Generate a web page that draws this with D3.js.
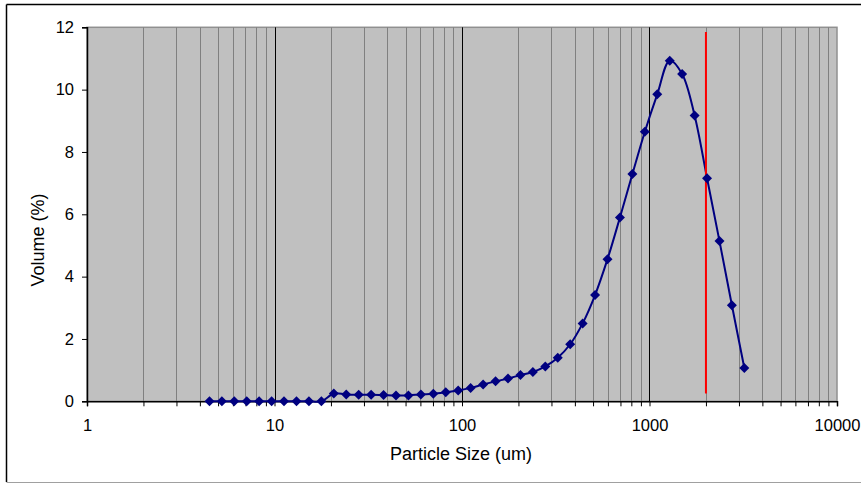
<!DOCTYPE html>
<html><head><meta charset="utf-8">
<script src="https://cdn.jsdelivr.net/npm/d3@7"></script>
<style>html,body{margin:0;padding:0;background:#fff;}svg{display:block;}</style>
</head><body>
<svg id="c" width="861" height="483"></svg>
<script>
// Particle sizes (um)
const sizes = [4.5, 5.24, 6.1, 7.11, 8.28, 9.65, 11.24, 13.1, 15.26, 17.78,
  20.72, 24.14, 28.12, 32.76, 38.17, 44.47, 51.81, 60.37, 70.33, 81.94,
  95.46, 111.2, 129.6, 151.0, 175.9, 204.9, 238.8, 278.2, 324.1, 377.6,
  439.9, 512.5, 597.0, 695.6, 810.4, 944.3, 1100, 1282, 1493, 1740,
  2027, 2362, 2751, 3205];
// Volume (%)
const volumes = [0, 0, 0, 0, 0, 0, 0, 0, 0, 0,
  0.25, 0.22, 0.21, 0.21, 0.2, 0.19, 0.19, 0.22, 0.24, 0.29,
  0.35, 0.43, 0.54, 0.64, 0.73, 0.84, 0.94, 1.12, 1.4, 1.83,
  2.5, 3.41, 4.56, 5.9, 7.29, 8.65, 9.85, 10.93, 10.5, 9.17,
  7.16, 5.14, 3.08, 1.07];
const xTickValues = [1, 10, 100, 1000, 10000];
const yTickValues = [0, 2, 4, 6, 8, 10, 12];
const cutSize = [2000];
const cutRange = [0.25, 11.85];

const svg = d3.select("#c");
const X0 = 87, X1 = 837, Y0 = 401.3, Y1 = 27.3;
const x = d3.scaleLog().domain([1, 10000]).range([X0, X1]);
const y = d3.scaleLinear().domain([0, 12]).range([Y0, Y1]);
const font = "Arial, 'Liberation Sans', sans-serif";

// outer border
svg.append("line").attr("x1", 6.5).attr("x2", 861).attr("y1", 4.5).attr("y2", 4.5).attr("stroke", "#000").attr("stroke-width", 1.5);
svg.append("line").attr("x1", 6.5).attr("x2", 6.5).attr("y1", 4.5).attr("y2", 482).attr("stroke", "#000").attr("stroke-width", 1.5);
svg.append("line").attr("x1", 6.5).attr("x2", 861).attr("y1", 482.5).attr("y2", 482.5).attr("stroke", "#a0a0a0").attr("stroke-width", 1);

// plot area
svg.append("rect").attr("x", X0).attr("y", Y1).attr("width", X1 - X0).attr("height", Y0 - Y1)
  .attr("fill", "#c0c0c0").attr("stroke", "#909090").attr("stroke-width", 1.5);

// gridlines
const allTicks = [];
for (let d = 1; d < 10000; d *= 10) for (let k = 1; k < 10; k++) allTicks.push(d * k);
allTicks.push(10000);
const grid = svg.append("g");
allTicks.filter(v => v > 1 && v < 10000).forEach(v => {
  const major = xTickValues.includes(v);
  grid.append("line").attr("x1", Math.round(x(v)) + 0.5).attr("x2", Math.round(x(v)) + 0.5)
    .attr("y1", Y1).attr("y2", Y0)
    .attr("stroke", major ? "#000" : "#808080").attr("stroke-width", 1);
});

// axes
const xAxis = d3.axisBottom(x).tickValues(allTicks).tickSize(5)
  .tickFormat(v => xTickValues.includes(v) ? String(v) : "");
const gx = svg.append("g").attr("transform", `translate(0,${Y0})`).call(xAxis);
gx.select(".domain").attr("stroke", "#000").attr("stroke-width", 1.5);
gx.selectAll(".tick line").attr("stroke", "#000");
gx.selectAll(".tick text").attr("font-family", font).attr("font-size", 16.5).attr("fill", "#000")
  .attr("y", 30).attr("dy", 0);

const yAxis = d3.axisLeft(y).tickValues(yTickValues).tickSize(5).tickFormat(d3.format("d"));
const gy = svg.append("g").attr("transform", `translate(${X0},0)`).call(yAxis);
gy.select(".domain").attr("stroke", "#000").attr("stroke-width", 1.5);
gy.selectAll(".tick line").attr("stroke", "#000");
gy.selectAll(".tick text").attr("font-family", font).attr("font-size", 16.5).attr("fill", "#000").attr("x", -13);

// series
const data = sizes.map((s, i) => ({s, v: volumes[i]}));
const line = d3.line().x(d => x(d.s)).y(d => y(d.v)).curve(d3.curveCatmullRom.alpha(0.5));
svg.append("path").datum(data).attr("d", line).attr("fill", "none").attr("stroke", "#000080").attr("stroke-width", 2);

// red cut line
svg.append("line").datum(cutSize[0]).attr("x1", d => x(d)).attr("x2", d => x(d))
  .attr("y1", y(cutRange[0])).attr("y2", y(cutRange[1])).attr("stroke", "#ff0000").attr("stroke-width", 2);

// markers
svg.append("g").selectAll("path").data(data).join("path")
  .attr("transform", d => `translate(${x(d.s)},${y(d.v)})`)
  .attr("d", "M0,-5L5,0L0,5L-5,0Z").attr("fill", "#000080");

// titles
svg.append("text").attr("x", 461).attr("y", 460).attr("text-anchor", "middle")
  .attr("font-family", font).attr("font-size", 18).text("Particle Size (um)");
svg.append("text").attr("transform", "translate(44,240) rotate(-90)").attr("text-anchor", "middle")
  .attr("font-family", font).attr("font-size", 18).text("Volume (%)");
</script>
</body></html>
